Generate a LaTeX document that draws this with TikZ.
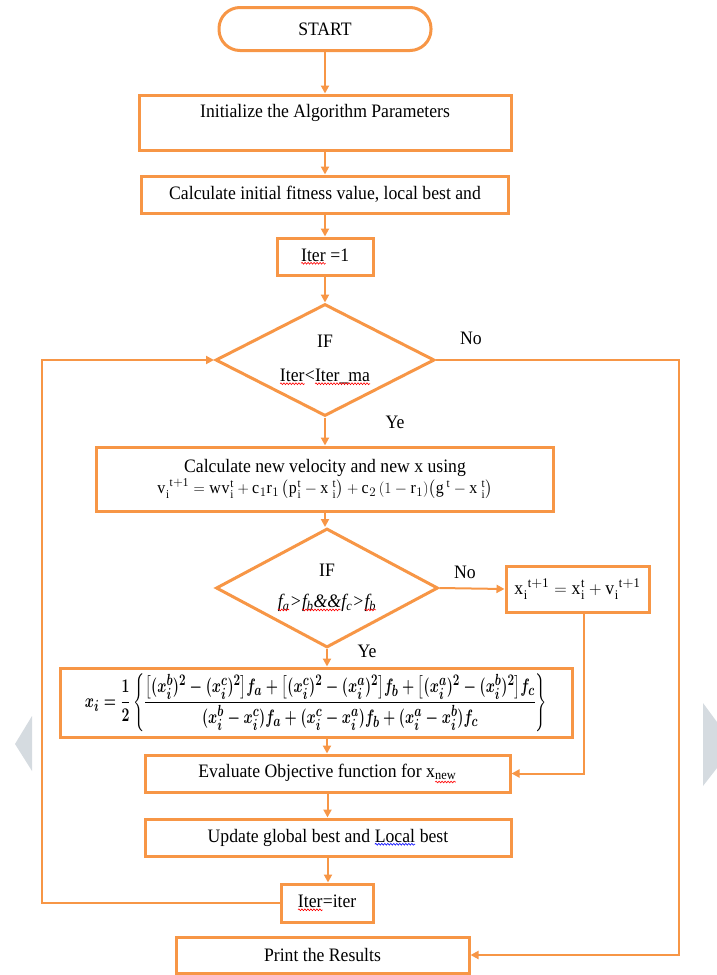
\documentclass[tikz,border=0pt]{standalone}
\usepackage{fontspec}
\setmainfont{Liberation Serif}[FakeStretch=0.93]
\usepackage{amsmath}
\usetikzlibrary{shapes.geometric,arrows.meta,calc,decorations.pathmorphing}
\definecolor{orng}{HTML}{F79646}
\definecolor{wmk}{HTML}{D5DBE0}
\newcommand{\wavy}[2]{\tikz[baseline=(w.base)]{\node[rectangle, draw=none, fill=none, minimum width=0pt, minimum height=0pt, inner sep=0pt, outer sep=0pt, text=black](w){#2}; \draw[#1, line width=0.6pt, decorate, decoration={snake, amplitude=0.9pt, segment length=3pt}] ([yshift=-2.2pt]w.base west) -- ([yshift=-2.2pt]w.base east);}}
\newcommand{\sqr}[1]{\wavy{red}{#1}}
\newcommand{\sqb}[1]{\wavy{blue}{#1}}
\newcommand{\rmv}[1]{\mathrm{#1}}
\begin{document}
\begin{tikzpicture}[x=1pt,y=-1pt,
  font=\fontsize{19}{23}\selectfont,
  box/.style={draw=orng, line width=3pt, fill=white, inner sep=2pt, align=center},
  dia/.style={draw=orng, line width=3pt, fill=white, diamond, aspect=2, inner sep=0pt, align=center},
  arr/.style={draw=orng, line width=2pt, -{Triangle[length=8pt,width=8pt]}},
  lbl/.style={inner sep=0pt}]
\useasboundingbox (0,0) rectangle (717,975);
% faint side marks
\fill[wmk] (32,716) -- (15,744) -- (32,771) -- cycle;
\fill[wmk] (703,703) -- (717,722) -- (717,768) -- (703,786) -- cycle;

\node[box, rounded corners=21pt, minimum width=212pt, minimum height=43pt] (start) at (325,29) {START};
\node[box, minimum width=372pt, minimum height=55pt] (init) at (325,122.5) {Initialize the Algorithm Parameters\\ \mbox{}};
\node[box, minimum width=367pt, minimum height=37pt] (calc) at (325,194.5) {Calculate initial fitness value, local best and};
\node[box, minimum width=96pt, minimum height=37pt] (it1) at (325,256.5) {\sqr{Iter} =1};
\node[dia, minimum width=219pt, minimum height=112pt] (d1) at (325,360) {IF\\[11pt] \sqr{Iter}<\sqr{Iter\_ma}};
\node[box, minimum width=457pt, minimum height=64pt] (vel) at (325,479) {Calculate new velocity and new x using\\[-2pt]
  \resizebox{335pt}{!}{$\rmv{v}_{\rmv{i}}^{\;\rmv{t+1}}=\rmv{wv}_{\rmv{i}}^{\rmv{t}}+\rmv{c}_{1}\rmv{r}_{1}\left(\rmv{p}_{\rmv{i}}^{\rmv{t}}-\rmv{x}_{\;\rmv{i}}^{\;\rmv{t}}\right)+\rmv{c}_{2}\left(1-\rmv{r}_{1}\right)\!\left(\rmv{g}^{\,\rmv{t}}-\rmv{x}_{\;\rmv{i}}^{\;\rmv{t}}\right)$}};
\node[dia, minimum width=222pt, minimum height=119pt] (d2) at (327,588) {IF\\[8pt] \textit{\sqr{f\textsubscript{a}}>\sqr{f\textsubscript{b}\&\&}f\textsubscript{c}>\sqr{f\textsubscript{b}}}};
\node[box, minimum width=143pt, minimum height=46pt] (xi) at (577.5,589) {$\rmv{x}_{\rmv{i}}^{\;\rmv{t+1}}=\rmv{x}_{\rmv{i}}^{\rmv{t}}+\rmv{v}_{\rmv{i}}^{\;\rmv{t+1}}$};
\node[box, inner sep=0pt, minimum width=512pt, minimum height=69pt] (form) at (316,702.5) {\resizebox*{462pt}{58pt}{\boldmath$\displaystyle x_i=\mathbf{\frac{1}{2}}\left\{\frac{\bigl[(x_i^b)^{\mathbf 2}-(x_i^c)^{\mathbf 2}\bigr]f_a+\bigl[(x_i^c)^{\mathbf 2}-(x_i^a)^{\mathbf 2}\bigr]f_b+\bigl[(x_i^a)^{\mathbf 2}-(x_i^b)^{\mathbf 2}\bigr]f_c}{(x_i^b-x_i^c)f_a+(x_i^c-x_i^a)f_b+(x_i^a-x_i^b)f_c}\right\}$}};
\node[box, minimum width=365pt, minimum height=37pt] (eval) at (327.5,773.5) {Evaluate Objective function for x\textsubscript{\sqr{new}}};
\node[box, minimum width=366pt, minimum height=37pt] (upd) at (328,837.5) {Update global best and \sqb{Local} best};
\node[box, minimum width=92pt, minimum height=38pt] (it2) at (327,903) {\sqr{Iter}=iter};
\node[box, minimum width=293pt, minimum height=36pt] (prt) at (322.5,955) {Print the Results};

\node[lbl] (no1) at (471,338) {No};
\node[lbl] (ye1) at (395,422) {Ye};
\node[lbl] (no2) at (465,572) {No};
\node[lbl] (ye2) at (367,651) {Ye};

\coordinate (lft) at (42,0);
\coordinate (rgt) at (679,0);

\draw[arr] (start.south) -- (start.south |- init.north);
\draw[arr] (init.south) -- (init.south |- calc.north);
\draw[arr] (calc.south) -- (calc.south |- it1.north);
\draw[arr] (it1.south) -- (it1.south |- d1.north);
\draw[arr] (d1.south) -- (d1.south |- vel.north);
\draw[arr] (vel.south) -- (vel.south |- d2.north);
\draw[arr] (d2.south) -- (d2.south |- form.north);
\draw[arr] (d2.south |- form.south) -- (d2.south |- eval.north);
\draw[arr] (eval.south) -- (eval.south |- upd.north);
\draw[arr] (upd.south) -- (upd.south |- it2.north);
\draw[arr] (d2.east) -- (xi.west);
\draw[arr] ([xshift=6pt]xi.south) |- (eval.east);
\draw[arr] (it2.west) -- (it2.west -| lft) |- (d1.west);
\draw[arr] (d1.east) -| (rgt |- prt.east) -- (prt.east);
\end{tikzpicture}
\end{document}
